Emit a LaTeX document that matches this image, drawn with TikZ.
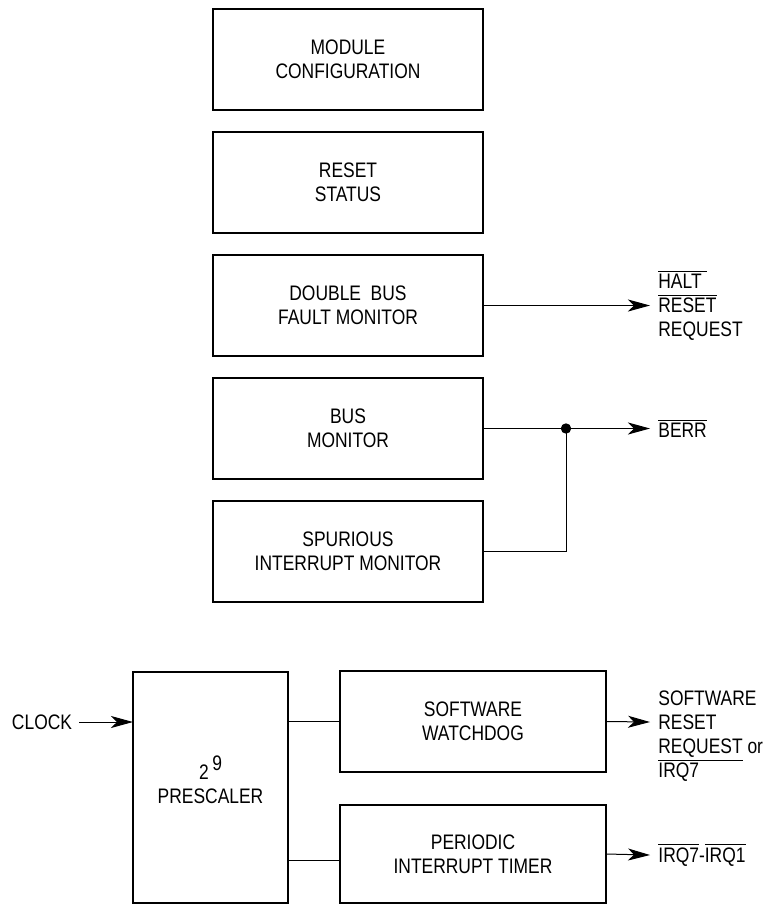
\documentclass[tikz,border=0pt]{standalone}
\usepackage{fontspec}
\setmainfont{Liberation Sans}[FakeStretch=0.83]
\usepackage{tikz}
\usetikzlibrary{arrows.meta,positioning,calc}
\newcommand{\diagfont}{\fontsize{10.5}{12}\selectfont}
\newcommand{\ovl}[1]{$\overline{\mbox{#1}}$}
\tikzset{
  blk/.style={
    draw=black, line width=1pt, outer sep=0pt,
    minimum width=135pt, minimum height=50.5pt,
    align=center, inner sep=2pt, font=\diagfont
  },
  wire/.style={line width=.5pt},
  arr/.style={-{Stealth[length=11pt,width=6pt,inset=3pt]},line width=.5pt},
  sig/.style={font=\diagfont,align=left,inner sep=0pt,anchor=west,xshift=4pt}
}

\begin{document}
\begin{tikzpicture}[x=0.5pt,y=-0.5pt,node distance=11pt]
  \useasboundingbox (0,0) rectangle (766,905);
  % upper column of blocks
  \node[blk] (modcfg) at (348,59.5) {MODULE\\CONFIGURATION};
  \node[blk,below=of modcfg] (rststat) {RESET\\STATUS};
  \node[blk,below=of rststat] (dbf) {DOUBLE\ \ BUS\\FAULT MONITOR};
  \node[blk,below=of dbf] (busmon) {BUS\\MONITOR};
  \node[blk,below=of busmon] (spur) {SPURIOUS\\INTERRUPT MONITOR};

  \coordinate (haltEnd) at ($(dbf.east)+(167,0)$);
  \draw[arr] (dbf.east) -- (haltEnd);
  \node[sig] (halt) at (haltEnd) {\ovl{HALT\ }\\\ovl{RESET}\\REQUEST};

  \coordinate (junc) at ($(busmon.east)+(83,0)$);
  \coordinate (berrEnd) at ($(junc)+(84,0)$);
  \draw[wire] (busmon.east) -- (junc);
  \draw[wire] (spur.east) -| (junc);
  \draw[arr] (junc) -- (berrEnd);
  \fill (junc) circle (2.6pt);
  \node[sig] (berr) at (berrEnd) {\ovl{BERR}};

  % prescaler and timers
  \node[blk,minimum width=77.5pt,minimum height=115.5pt] (pre) at (210.5,787.5) {};
  \node[font=\diagfont,align=center] (preTxt) at ($(pre.center)+(0,-8)$)
    {2\raisebox{.45em}{\,9}\\PRESCALER};
  \node[blk,minimum width=133pt] (swd) at (473,721.5) {SOFTWARE\\WATCHDOG};
  \node[blk,minimum width=133pt,minimum height=49pt,below=16.5pt of swd] (pit)
    {PERIODIC\\INTERRUPT TIMER};

  \node[font=\diagfont] (clk) at (42,722) {CLOCK};
  \draw[arr] (clk) -- (clk -| pre.west);

  \draw[wire] (pre.east |- swd.west) -- (swd.west);
  \coordinate (pitIn) at ($(pit.west)+(0,6)$);
  \draw[wire] (pre.east |- pitIn) -- (pitIn);

  \coordinate (swdEnd) at (650,722);
  \draw[arr] (swd.east) -- (swdEnd);
  \node[sig,yshift=-7.25pt] (swrst) at (swdEnd)
    {SOFTWARE\\RESET\\\underline{REQUEST} or\\IRQ7};

  \coordinate (pitEnd) at (650,855);
  \draw[arr] (pit.east) -- (pitEnd);
  \node[sig] (irq) at (pitEnd) {\ovl{IRQ7}-\ovl{IRQ1}};
\end{tikzpicture}
\end{document}
